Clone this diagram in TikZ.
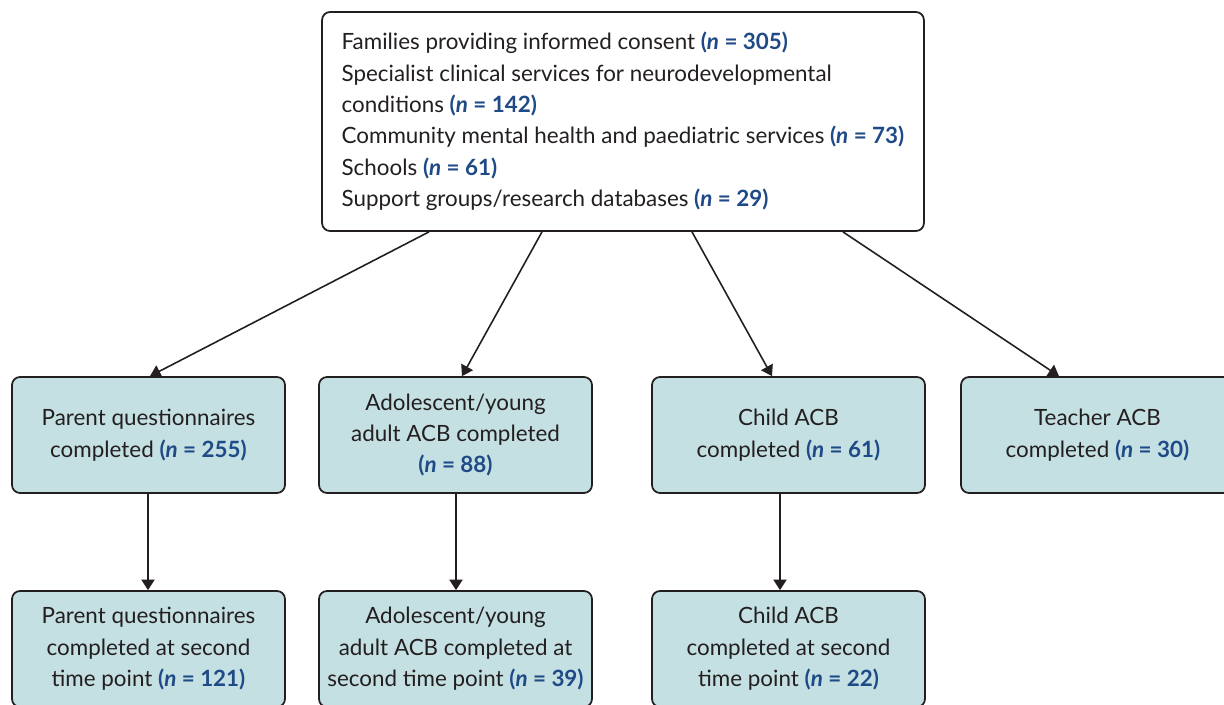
\documentclass[tikz,border=0pt]{standalone}
\usepackage{fontspec}
\setmainfont{Lato}
\usepackage{tikz}
\usetikzlibrary{positioning,arrows.meta}

\definecolor{boxfill}{HTML}{C4E0E2}
\definecolor{nblue}{HTML}{1F4A87}
\definecolor{inkgrey}{HTML}{231F20}

\newcommand{\ncount}[1]{\textcolor{nblue}{\textbf{(\textit{n} = #1)}}}

\begin{document}
\begin{tikzpicture}[
    x=0.02cm, y=-0.02cm,
    source/.style={rectangle, rounded corners=0.16cm, draw=inkgrey, line width=1pt, fill=white,
        text=inkgrey, align=left, inner xsep=0.2cm,
        minimum width=12.04cm, minimum height=4.38cm},
    stage/.style={rectangle, rounded corners=0.16cm, draw=inkgrey, line width=1pt, fill=boxfill,
        text=inkgrey, align=center, minimum width=5.46cm, minimum height=2.32cm},
    link/.style={draw=inkgrey, line width=0.9pt, -{Triangle[length=6pt,width=7.5pt]}},
    font=\fontsize{12.75}{17.9}\selectfont
]
\useasboundingbox (0,0) rectangle (1224,704);

\node [source] (Root) at (623,121.5) {Families providing informed consent \ncount{305}\\
    Specialist clinical services for neurodevelopmental\\
    conditions \ncount{142}\\
    Community mental health and paediatric services \ncount{73}\\
    Schools \ncount{61}\\
    Support groups/research databases \ncount{29}};

% first time point
\node [stage] (Parent) at (148.5,435) {Parent questionnaires\\completed \ncount{255}};
\node [stage] (Young) at (455.5,435) {Adolescent/young\\adult ACB completed\\\ncount{88}};
\node [stage] (Child) at (788.5,435) {Child ACB\\completed \ncount{61}};
\node [stage] (Teacher) at (1097.5,435) {Teacher ACB\\completed \ncount{30}};

% second time point
\node [stage] (ParentTwo) at (148.5,649) {Parent questionnaires\\completed at second\\time point \ncount{121}};
\node [stage] (YoungTwo) at (455.5,649) {Adolescent/young\\adult ACB completed at\\second time point \ncount{39}};
\node [stage] (ChildTwo) at (788.5,649) {Child ACB\\completed at second\\time point \ncount{22}};

\draw [link] ([xshift=-3.88cm]Root.south) -- ([xshift=0.03cm]Parent.north);
\draw [link] ([xshift=-1.62cm]Root.south) -- ([xshift=0.13cm]Young.north);
\draw [link] ([xshift=1.38cm]Root.south) -- ([xshift=-0.33cm]Child.north);
\draw [link] ([xshift=4.40cm]Root.south) -- ([xshift=-0.77cm]Teacher.north);

\draw [link] ([xshift=-0.01cm]Parent.south) -- ([xshift=-0.01cm]ParentTwo.north);
\draw [link] ([xshift=0.01cm]Young.south) -- ([xshift=0.01cm]YoungTwo.north);
\draw [link] ([xshift=-0.17cm]Child.south) -- ([xshift=-0.17cm]ChildTwo.north);

\end{tikzpicture}
\end{document}
